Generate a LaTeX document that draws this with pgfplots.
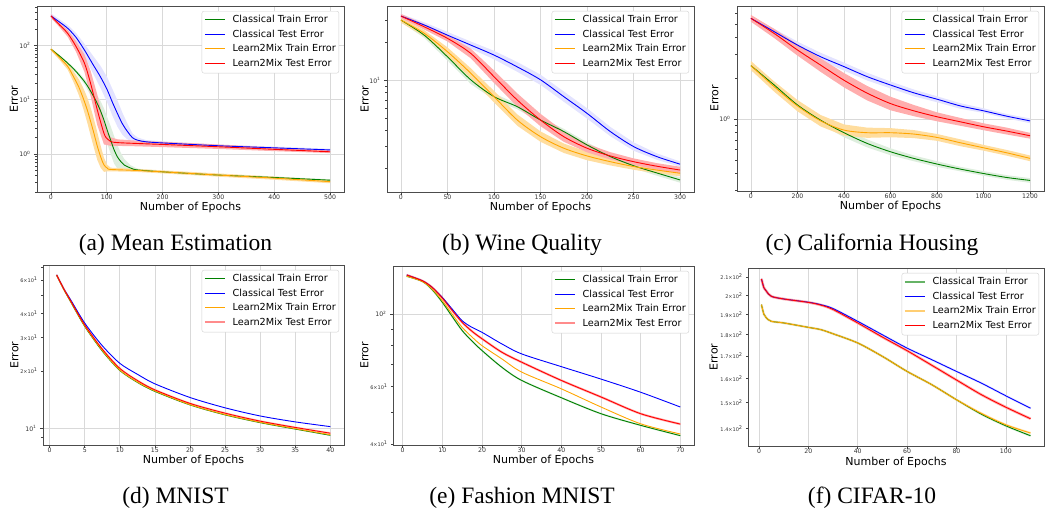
\documentclass[border=0pt]{standalone}
\usepackage{pgfplots}
\pgfplotsset{compat=1.18}
\usepackage{pgfplotstable}
\usepackage{fontspec}
\setmainfont{DejaVu Sans}
\newfontfamily\capfont{Liberation Serif}

\definecolor{mgreen}{rgb}{0,0.502,0}
\definecolor{mblue}{rgb}{0,0,1}
\definecolor{morange}{rgb}{1,0.647,0}
\definecolor{mred}{rgb}{1,0,0}
\colorlet{bgreen}{mgreen!13}
\colorlet{bblue}{mblue!11}
\colorlet{borange}{morange!38}
\colorlet{bred}{mred!32}

% ---------------- (a) Mean Estimation: means ----------------
\pgfplotstableread{
x m
0 85
15 64
30 47
45 33
60 21.6
70 15
80 9.8
88 6.5
95 4.2
101 2.7
107 1.8
113 1.2
119 0.89
125 0.73
131 0.63
143 0.55
155 0.51
200 0.47
300 0.41
400 0.37
500 0.33
}\aG
\pgfplotstableread{
x m
0 347
15 270
30 206
45 140
60 82
75 45
89 26
101 15
110 9
119 5.6
128 3.6
137 2.6
146 2.0
155 1.8
170 1.68
200 1.6
300 1.42
400 1.3
500 1.19
}\aB
\pgfplotstableread{
x m
0 85
15 60
30 41
40 27
50 17
58 10.5
65 6.5
71 4.0
77 2.4
83 1.4
89 0.89
95 0.63
101 0.55
107 0.52
150 0.50
200 0.47
300 0.41
400 0.36
500 0.31
}\aO
\pgfplotstableread{
x m
0 347
15 240
30 166
45 95
60 47
71 20
83 6.5
95 2.4
101 1.9
107 1.69
120 1.62
150 1.57
200 1.5
300 1.36
400 1.22
500 1.10
}\aR
% ---------------- (b) Wine Quality ----------------
\pgfplotstableread{
x g b o r
0 30.2 32.5 30.2 32.5
25 22.9 27.6 23.7 26.7
50 15.4 22.9 16.9 21.6
75 10.1 19.1 11.4 16.4
100 7.42 15.9 7.42 10.7
125 6.17 12.8 4.83 6.97
150 4.83 10.1 3.56 4.83
175 3.91 7.42 2.88 3.56
200 3.06 5.46 2.5 2.88
225 2.47 3.91 2.25 2.5
250 2.09 2.97 2.06 2.25
275 1.83 2.47 1.93 2.07
300 1.61 2.15 1.82 1.93
}\bT
% ---------------- (c) California Housing ----------------
\pgfplotstableread{
x g b o r
0 2.47 5.5 2.47 5.5
100 1.78 4.39 1.73 4.26
200 1.27 3.5 1.25 3.22
300 0.98 2.87 0.97 2.49
400 0.794 2.43 0.83 1.93
500 0.662 2.05 0.794 1.55
600 0.575 1.78 0.794 1.30
700 0.514 1.56 0.776 1.15
800 0.467 1.40 0.733 1.04
900 0.429 1.25 0.670 0.955
1000 0.398 1.15 0.615 0.878
1100 0.372 1.05 0.565 0.816
1200 0.354 0.97 0.514 0.754
}\cT
% ---------------- (d) MNIST ----------------
\pgfplotstableread{
x g b o r
1 63.5 63.7 63.5 63.7
2 53.6 54.0 53.7 53.9
3 46.0 47.1 46.2 46.5
5 34.2 35.6 34.4 34.8
7.5 25.4 27.1 25.6 26.0
10 20.1 21.9 20.2 20.6
12.5 17.4 19.2 17.5 17.8
15 15.6 17.1 15.7 15.9
20 13.25 14.5 13.3 13.5
25 11.75 12.8 11.8 12.0
30 10.7 11.6 10.75 10.9
35 9.9 10.8 9.95 10.1
40 9.18 10.2 9.25 9.42
}\dT
% ---------------- (e) Fashion MNIST ----------------
\pgfplotstableread{
x g b o r
1 130.6 131.8 130.6 131.8
5 125.8 126.4 125.8 126.4
7.5 118.5 120.5 119.0 120.5
10 108.6 112.4 109.8 111.9
12.5 98.2 103.5 99.8 102.5
15 89.0 95.4 91.0 94.3
17.5 82.6 91.0 85.0 88.5
20 77.3 87.9 80.0 84.0
25 68.7 81.0 72.9 76.4
30 62.6 75.5 66.4 71.2
40 55.4 69.0 59.0 62.6
50 49.5 63.2 51.9 55.7
60 45.6 57.6 46.1 49.5
70 42.4 51.9 42.9 46.0
}\eT
% ---------------- (f) CIFAR-10 ----------------
\pgfplotstableread{
x g b o r
1 195.0 208.9 195.0 208.9
2 190.0 204.0 190.0 204.0
3 188.2 202.1 188.2 202.1
5 186.5 199.4 186.5 199.4
10 185.7 198.0 185.7 198.0
20 183.5 196.3 183.5 196.2
25 182.4 195.0 182.4 194.8
30 180.4 193.0 180.4 192.5
40 176.0 186.5 176.0 185.7
50 169.8 179.9 169.8 178.8
60 163.1 173.6 163.1 172.4
70 157.4 168.3 157.4 165.8
80 151.2 163.1 151.2 159.4
90 145.5 158.1 145.8 153.3
100 141.0 152.8 141.4 148.2
110 137.3 147.8 138.3 143.7
}\fT

% legend entries: a coloured rule (colour, thickness) then the text
\newcommand{\legent}[3]{\textcolor{#1}{\rule[\dimexpr 3pt-#2/2\relax]{20pt}{#2}}\hspace{7.7pt}#3}
\newcommand{\legs}[8]{%
  \addlegendimage{empty legend}\addlegendentry{\legent{#1}{#2}{Classical Train Error}}
  \addlegendimage{empty legend}\addlegendentry{\legent{#3}{#4}{Classical Test Error}}
  \addlegendimage{empty legend}\addlegendentry{\legent{#5}{#6}{Learn2Mix Train Error}}
  \addlegendimage{empty legend}\addlegendentry{\legent{#7}{#8}{Learn2Mix Test Error}}
}

\pgfplotsset{
  panel/.style={
    scale only axis, anchor=south west,
    tick pos=left, tick align=outside,
    major tick length=3pt, minor tick length=1.8pt,
    every tick/.style={black!75, line width=0.5pt},
    axis line style={black!70, line width=0.6pt},
    xmajorgrids, ymajorgrids,
    grid style={black!15, line width=0.7pt},
    /pgf/number format/assume math mode=true,
    /pgf/number format/1000 sep={},
    tick label style={font=\fontsize{6.2}{7}\selectfont, text=black!80},
    xticklabel style={yshift=3.5pt},
    xlabel={Number of Epochs}, ylabel={Error},
    every axis x label/.style={anchor=base, font=\fontsize{11}{13}\selectfont},
    every axis y label/.style={anchor=base, rotate=90, font=\fontsize{11}{13}\selectfont},
    extra y tick style={grid=none, major tick length=1.8pt,
      tick label style={font=\fontsize{5}{6}\selectfont}},
    legend cell align=left,
    legend style={at={(1,1)}, anchor=north east, xshift=-5pt, yshift=-5pt,
      draw=black!18, rounded corners=2pt, fill=white,
      font=\fontsize{9.7}{11}\selectfont, inner xsep=1pt, inner ysep=3.5pt,
      row sep=3.1pt, column sep=0pt,
      nodes={inner xsep=2pt, inner ysep=1pt, text height=7.2pt, text depth=2.2pt}},
  },
  ln/.style={line width=0.9pt, smooth, forget plot},
  bnd/.style={draw=none, fill=#1, forget plot},
}

\begin{document}
\begin{tikzpicture}
\path[use as bounding box] (0,0) rectangle (1045pt,-510pt);

% (a)
\begin{semilogyaxis}[panel, at={(37pt,-192pt)}, width=307pt, height=186pt,
  xmin=-25, xmax=525, ymin=0.2, ymax=530,
  xtick={0,100,...,500},
  ytick={1,10,100}, yticklabels={10\textsuperscript{0},10\textsuperscript{1},10\textsuperscript{2}},
  minor ytick={0.2,0.3,0.4,0.5,0.6,0.7,0.8,0.9,2,3,4,5,6,7,8,9,20,30,40,50,60,70,80,90,200,300,400,500},
  ylabel style={at={([xshift=-19pt]axis description cs:0,0.5)}},
  xlabel style={at={([yshift=-18.7pt]axis description cs:0.5,0)}}]
\legs{mgreen}{1pt}{mblue}{1pt}{morange}{1pt}{mred}{1pt}
\addplot[bnd=bgreen] coordinates {(0,89)(15,67)(30,49.8)(45,35.6)(60,24.2)(70,18)(80,13.2)(88,9.8)(95,6.9)(101,4.7)(107,3.24)(113,2.16)(119,1.47)(125,1.06)(131,0.82)(143,0.62)(155,0.536)(200,0.489)(300,0.426)(400,0.385)(500,0.343)
 (500,0.317)(400,0.356)(300,0.394)(200,0.452)(155,0.486)(143,0.49)(131,0.485)(125,0.5)(119,0.54)(113,0.67)(107,1.0)(101,1.54)(95,2.55)(88,4.3)(80,7.3)(70,12.5)(60,19.3)(45,30.6)(30,44.3)(15,61)(0,81)};
\addplot[bnd=bblue] coordinates {(0,389)(15,302)(30,237)(45,168)(60,107)(75,65)(89,41.6)(101,25.5)(110,15.8)(119,9.8)(128,5.76)(137,3.64)(146,2.4)(155,2.02)(170,1.81)(200,1.71)(300,1.49)(400,1.37)(500,1.25)
 (500,1.13)(400,1.24)(300,1.35)(200,1.5)(170,1.56)(155,1.61)(146,1.67)(137,1.86)(128,2.25)(119,3.2)(110,5.1)(101,8.8)(89,16.3)(75,31)(60,63)(45,117)(30,179)(15,241)(0,310)};
\addplot[bnd=borange] coordinates {(0,90)(15,66)(30,47.2)(40,33.8)(50,23.8)(58,16.3)(65,11.1)(71,7.2)(77,4.4)(83,2.52)(89,1.42)(95,0.85)(101,0.63)(107,0.56)(150,0.535)(200,0.5)(300,0.439)(400,0.385)(500,0.332)
 (500,0.29)(400,0.336)(300,0.383)(200,0.44)(150,0.47)(107,0.48)(101,0.48)(95,0.47)(89,0.56)(83,0.78)(77,1.3)(71,2.2)(65,3.8)(58,6.8)(50,12.1)(40,21.6)(30,35.7)(15,54.5)(0,80)};
\addplot[bnd=bred] coordinates {(0,375)(15,264)(30,191)(45,119)(60,68)(71,34)(83,12.4)(95,3.84)(101,2.47)(107,2.03)(120,1.86)(150,1.77)(200,1.68)(300,1.5)(400,1.32)(500,1.17)
 (500,1.04)(400,1.13)(300,1.24)(200,1.34)(150,1.39)(120,1.41)(107,1.41)(101,1.46)(95,1.5)(83,3.4)(71,11.8)(60,32.4)(45,76)(30,144)(15,218)(0,321)};
\addplot[mgreen, ln] table[x=x,y=m]{\aG};
\addplot[mblue, ln] table[x=x,y=m]{\aB};
\addplot[morange, ln] table[x=x,y=m]{\aO};
\addplot[mred, ln] table[x=x,y=m]{\aR};
\end{semilogyaxis}

% (b)
\begin{semilogyaxis}[panel, at={(387pt,-192pt)}, width=307pt, height=186pt,
  xmin=-15, xmax=315, ymin=1.29, ymax=39.1,
  xtick={0,50,...,300},
  ytick={10}, yticklabels={10\textsuperscript{1}},
  minor ytick={2,3,4,5,6,7,8,9,20,30},
  ylabel style={at={([xshift=-18.3pt]axis description cs:0,0.5)}},
  xlabel style={at={([yshift=-18.7pt]axis description cs:0.5,0)}}]
\legs{mgreen}{1pt}{mblue}{1pt}{morange}{1pt}{mred}{1pt}
\addplot[bnd=bgreen] coordinates {(0,31.4)(25,24.0)(50,16.5)(75,10.9)(100,7.87)(125,6.48)(150,5.07)(175,4.11)(200,3.21)(225,2.59)(250,2.19)(275,1.92)(300,1.69)
 (300,1.53)(275,1.74)(250,1.99)(225,2.35)(200,2.91)(175,3.72)(150,4.6)(125,5.88)(100,7.0)(75,9.35)(50,14.4)(25,21.8)(0,29.0)};
\addplot[bnd=bblue] coordinates {(0,33.8)(25,29.0)(50,24.3)(75,20.4)(100,17.2)(125,14.0)(150,11.1)(175,8.16)(200,6.0)(225,4.26)(250,3.21)(275,2.62)(300,2.26)
 (300,2.05)(275,2.33)(250,2.75)(225,3.59)(200,4.96)(175,6.75)(150,9.2)(125,11.7)(100,14.7)(75,17.9)(50,21.6)(25,26.3)(0,31.3)};
\addplot[bnd=borange] coordinates {(0,31.7)(25,25.1)(50,18.3)(75,12.5)(100,8.24)(125,5.36)(150,3.92)(175,3.14)(200,2.7)(225,2.41)(250,2.18)(275,2.05)(300,1.93)
 (300,1.72)(275,1.82)(250,1.94)(225,2.1)(200,2.31)(175,2.64)(150,3.24)(125,4.35)(100,6.68)(75,10.4)(50,15.6)(25,22.4)(0,28.8)};
\addplot[bnd=bred] coordinates {(0,33.8)(25,28.0)(50,22.9)(75,17.9)(100,12.0)(125,7.88)(150,5.41)(175,3.92)(200,3.11)(225,2.68)(250,2.39)(275,2.19)(300,2.05)
 (300,1.82)(275,1.95)(250,2.12)(225,2.34)(200,2.67)(175,3.24)(150,4.31)(125,6.17)(100,9.55)(75,15.0)(50,20.4)(25,25.4)(0,31.3)};
\addplot[mgreen, ln] table[x=x,y=g]{\bT};
\addplot[mblue, ln] table[x=x,y=b]{\bT};
\addplot[morange, ln] table[x=x,y=o]{\bT};
\addplot[mred, ln] table[x=x,y=r]{\bT};
\end{semilogyaxis}

% (c)
\begin{semilogyaxis}[panel, at={(737pt,-191pt)}, width=307pt, height=185pt,
  xmin=-60, xmax=1260, ymin=0.296, ymax=6.78,
  xtick={0,200,...,1200},
  ytick={1}, yticklabels={10\textsuperscript{0}},
  minor ytick={0.3,0.4,0.5,0.6,0.7,0.8,0.9,2,3,4,5,6},
  ylabel style={at={([xshift=-18.7pt]axis description cs:0,0.5)}},
  xlabel style={at={([yshift=-19pt]axis description cs:0.5,0)}}]
\legs{mgreen}{1pt}{mblue}{1pt}{morange}{1pt}{mred}{1pt}
\addplot[bnd=bgreen] coordinates {(0,2.59)(100,1.87)(200,1.35)(300,1.05)(400,0.858)(500,0.708)(600,0.61)(700,0.54)(800,0.49)(900,0.446)(1000,0.414)(1100,0.387)(1200,0.368)
 (1200,0.34)(1100,0.358)(1000,0.383)(900,0.413)(800,0.445)(700,0.49)(600,0.542)(500,0.619)(400,0.735)(300,0.916)(200,1.2)(100,1.7)(0,2.35)};
\addplot[bnd=bblue] coordinates {(0,5.72)(100,4.61)(200,3.71)(300,3.07)(400,2.6)(500,2.19)(600,1.89)(700,1.65)(800,1.47)(900,1.31)(1000,1.2)(1100,1.09)(1200,1.01)
 (1200,0.933)(1100,1.01)(1000,1.11)(900,1.19)(800,1.33)(700,1.47)(600,1.68)(500,1.92)(400,2.27)(300,2.68)(200,3.3)(100,4.18)(0,5.29)};
\addplot[bnd=borange] coordinates {(0,2.67)(100,1.89)(200,1.38)(300,1.07)(400,0.913)(500,0.865)(600,0.858)(700,0.83)(800,0.777)(900,0.71)(1000,0.646)(1100,0.593)(1200,0.54)
 (1200,0.49)(1100,0.538)(1000,0.586)(900,0.632)(800,0.692)(700,0.725)(600,0.735)(500,0.728)(400,0.755)(300,0.882)(200,1.14)(100,1.59)(0,2.29)};
\addplot[bnd=bred] coordinates {(0,5.83)(100,4.6)(200,3.54)(300,2.79)(400,2.18)(500,1.75)(600,1.46)(700,1.27)(800,1.12)(900,1.02)(1000,0.931)(1100,0.865)(1200,0.792)
 (1200,0.718)(1100,0.77)(1000,0.828)(900,0.893)(800,0.963)(700,1.05)(600,1.16)(500,1.37)(400,1.71)(300,2.22)(200,2.93)(100,3.94)(0,5.19)};
\addplot[mgreen, ln] table[x=x,y=g]{\cT};
\addplot[mblue, ln] table[x=x,y=b]{\cT};
\addplot[morange, ln] table[x=x,y=o]{\cT};
\addplot[mred, ln] table[x=x,y=r]{\cT};
\end{semilogyaxis}

% (d)
\begin{semilogyaxis}[panel, at={(43pt,-445pt)}, width=301pt, height=180pt,
  xmin=-0.95, xmax=41.95, ymin=8.17, ymax=71.8,
  xtick={0,5,...,40},
  ytick={10}, yticklabels={10\textsuperscript{1}},
  minor ytick={9,50,70},
  extra y ticks={20,30,40,60},
  extra y tick labels={2×10\textsuperscript{1},3×10\textsuperscript{1},4×10\textsuperscript{1},6×10\textsuperscript{1}},
  ylabel style={at={([xshift=-24.7pt]axis description cs:0,0.5)}},
  xlabel style={at={([yshift=-19pt]axis description cs:0.5,0)}}]
\legs{mgreen}{1pt}{mblue}{1pt}{morange}{1pt}{mred!45}{2.2pt}
\addplot[mred!22, ln, line width=2pt] table[x=x,y=r]{\dT};
\addplot[mgreen, ln] table[x=x,y=g]{\dT};
\addplot[mblue, ln] table[x=x,y=b]{\dT};
\addplot[morange, ln] table[x=x,y=o]{\dT};
\addplot[mred, ln] table[x=x,y=r]{\dT};
\end{semilogyaxis}

% (e)
\begin{semilogyaxis}[panel, at={(393pt,-445pt)}, width=301pt, height=179pt,
  xmin=-2.45, xmax=73.45, ymin=39.7, ymax=140.4,
  xtick={0,10,...,70},
  ytick={100}, yticklabels={10\textsuperscript{2}},
  minor ytick={50,70,80,90},
  extra y ticks={40,60},
  extra y tick labels={4×10\textsuperscript{1},6×10\textsuperscript{1}},
  ylabel style={at={([xshift=-24.7pt]axis description cs:0,0.5)}},
  xlabel style={at={([yshift=-19pt]axis description cs:0.5,0)}}]
\legs{mgreen}{1pt}{mblue}{1pt}{morange}{1pt}{mred!45}{2.2pt}
\addplot[mgreen!14, ln, line width=1.8pt] table[x=x,y=g]{\eT};
\addplot[mred!32, ln, line width=2.2pt] table[x=x,y=r]{\eT};
\addplot[mgreen, ln] table[x=x,y=g]{\eT};
\addplot[mblue, ln] table[x=x,y=b]{\eT};
\addplot[morange, ln] table[x=x,y=o]{\eT};
\addplot[mred, ln] table[x=x,y=r]{\eT};
\end{semilogyaxis}

% (f)
\begin{semilogyaxis}[panel, at={(748pt,-446pt)}, width=296pt, height=178pt,
  xmin=-4.45, xmax=115.45, ymin=133.6, ymax=215.1,
  xtick={0,20,...,100},
  ytick=\empty,
  extra y ticks={140,150,160,170,180,190,200,210},
  extra y tick labels={1.4×10\textsuperscript{2},1.5×10\textsuperscript{2},1.6×10\textsuperscript{2},1.7×10\textsuperscript{2},1.8×10\textsuperscript{2},1.9×10\textsuperscript{2},2×10\textsuperscript{2},2.1×10\textsuperscript{2}},
  ylabel style={at={([xshift=-30.3pt]axis description cs:0,0.5)}},
  xlabel style={at={([yshift=-20pt]axis description cs:0.5,0)}}]
\legs{mgreen!60}{2.2pt}{mblue}{1pt}{morange!55}{2.2pt}{mred}{1pt}
\addplot[mgreen!16, ln, line width=2.2pt] table[x=x,y=g]{\fT};
\addplot[morange!28, ln, line width=2.2pt] table[x=x,y=o]{\fT};
\addplot[mblue!11, ln, line width=2.2pt] table[x=x,y=b]{\fT};
\addplot[mred!32, ln, line width=2.6pt] table[x=x,y=r]{\fT};
\addplot[mgreen, ln] table[x=x,y=g]{\fT};
\addplot[mblue, ln] table[x=x,y=b]{\fT};
\addplot[morange, ln] table[x=x,y=o]{\fT};
\addplot[mred, ln] table[x=x,y=r]{\fT};
\end{semilogyaxis}

% captions
\begin{scope}[every node/.style={anchor=base, font=\capfont\fontsize{23.5}{28}\selectfont, inner sep=0pt}]
\node at (175.5pt,-251pt) {(a) Mean Estimation};
\node at (522pt,-251pt) {(b) Wine Quality};
\node at (872pt,-251pt) {(c) California Housing};
\node at (175.5pt,-504pt) {(d) MNIST};
\node at (522pt,-504pt) {(e) Fashion MNIST};
\node at (872pt,-504pt) {(f) CIFAR-10};
\end{scope}
\end{tikzpicture}
\end{document}
